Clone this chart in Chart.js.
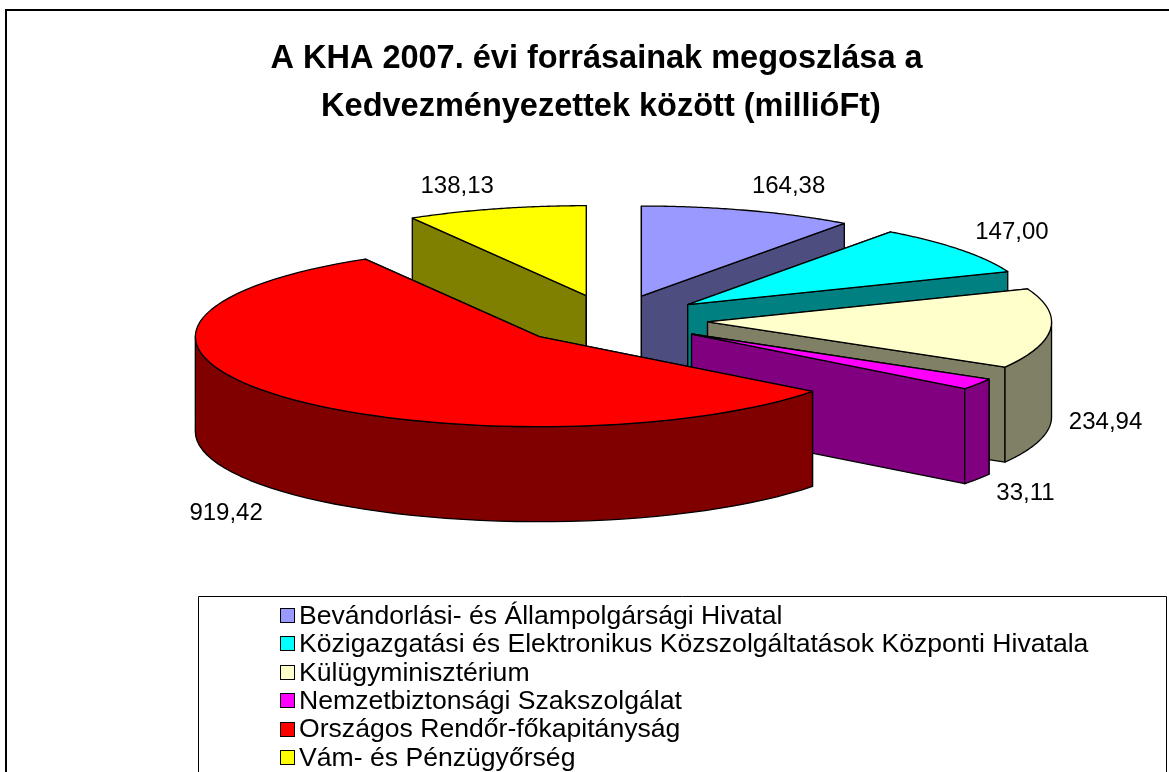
<!DOCTYPE html>
<html><head><meta charset="utf-8">
<style>html,body{margin:0;padding:0;background:#fff;overflow:hidden}#w{position:relative;width:1169px;height:772px}</style>
<script src="https://cdn.jsdelivr.net/npm/chart.js@4"></script>
</head><body><div id="w"><canvas id="c" width="1169" height="772"></canvas></div>
<script>
const categories = ["Bevándorlási- és Állampolgársági Hivatal","Közigazgatási és Elektronikus Közszolgáltatások Központi Hivatala","Külügyminisztérium","Nemzetbiztonsági Szakszolgálat","Országos Rendőr-főkapitányság","Vám- és Pénzügyőrség"];
const values = [164.38,147.00,234.94,33.11,919.42,138.13];
const valueLabels = ["164,38","147,00","234,94","33,11","919,42","138,13"];
const topColors = ["#9999FF","#00FFFF","#FFFFCC","#FF00FF","#FF0000","#FFFF00"];
const wallColors = ["#4D4D80","#008080","#808066","#800080","#800000","#808000"];
const titleLines = ["A KHA 2007. évi forrásainak megoszlása a"," Kedvezményezettek között (millióFt)"];

// drawing style (separate from the data)
const FONT = "'Liberation Sans', Arial, sans-serif";
const VIEW = {cx:611.5, cy:320, rx:344, ry:90, depth:95};
const labelNudge = [[40.5,-24],[52,-17],[55,-1],[48,14],[-55.5,22],[-39,-22]];
const labelOnBase = [false,false,true,true,true,false];

function project(a, r, ox, oy, low){
  // a is canvas angle (rad), r and offsets in units of the pie radius
  return {x: VIEW.cx + (r*Math.cos(a)+ox)*VIEW.rx,
          y: VIEW.cy + (r*Math.sin(a)+oy)*VIEW.ry + (low?VIEW.depth:0)};
}
class Arc3D extends Chart.ArcElement {
  geom(){
    const p = this.getProps(['startAngle','endAngle','outerRadius']);
    const mid=(p.startAngle+p.endAngle)/2, e=(this.options.offset||0)/p.outerRadius;
    return {s:p.startAngle,t:p.endAngle,mid,ox:e*Math.cos(mid),oy:e*Math.sin(mid)};
  }
  apexY(){const g=this.geom();return project(0,0,g.ox,g.oy,false).y;}
  draw(ctx){
    const g=this.geom(), o=this.options, P=(a,r,l)=>project(a,r,g.ox,g.oy,l);
    const poly=(pts,fill)=>{ctx.beginPath();pts.forEach((q,i)=>i?ctx.lineTo(q.x,q.y):ctx.moveTo(q.x,q.y));ctx.closePath();ctx.fillStyle=fill;ctx.fill();ctx.stroke();};
    ctx.save();ctx.strokeStyle='#000';ctx.lineWidth=1.3;ctx.lineJoin='round';
    const wall=o.borderColor;
    poly([P(0,0,false),P(g.s,1,false),P(g.s,1,true),P(0,0,true)],wall);
    poly([P(0,0,false),P(g.t,1,false),P(g.t,1,true),P(0,0,true)],wall);
    // outer wall: only the part of the rim that faces the viewer
    const a0=Math.max(g.s,0), a1=Math.min(g.t,Math.PI);
    const b0=Math.max(g.s,2*Math.PI), b1=Math.min(g.t,3*Math.PI);
    for(const [u,v] of [[a0,a1],[b0,b1]]){
      if(v>u){const up=[],dn=[];for(let i=0;i<=48;i++){const a=u+(v-u)*i/48;up.push(P(a,1,false));dn.unshift(P(a,1,true));}
        poly(up.concat(dn),wall);}
    }
    const topPts=[P(0,0,false)];for(let i=0;i<=72;i++)topPts.push(P(g.s+(g.t-g.s)*i/72,1,false));
    poly(topPts,o.backgroundColor);
    ctx.restore();
  }
}
Arc3D.id='arc3d';Arc3D.defaults=Chart.ArcElement.defaults;
class Pie3D extends Chart.PieController {
  draw(){
    const ctx=this.chart.ctx, arcs=this._cachedMeta.data.slice();
    arcs.sort((a,b)=>a.apexY()-b.apexY()).forEach(a=>a.draw(ctx));
  }
}
Pie3D.id='pie3d';
Pie3D.defaults=Object.assign({},Chart.PieController.defaults,{dataElementType:'arc3d'});
Pie3D.overrides=Chart.PieController.overrides;
Chart.register(Arc3D,Pie3D);

const furniture={id:'furniture',
  afterLayout(chart){const t=chart.titleBlock;if(t){t.left+=12;t.right+=12;t.top=35;}},
  beforeDraw(chart){const c=chart.ctx;c.save();c.fillStyle='#fff';c.fillRect(0,0,1169,772);c.strokeStyle='#000';
    c.lineWidth=2;c.beginPath();c.moveTo(6,772);c.lineTo(6,10);c.lineTo(1169,10);c.stroke();c.restore();},
  afterDraw(chart){const c=chart.ctx,arcs=chart.getDatasetMeta(0).data;c.save();
    c.fillStyle='#000';c.font="24px "+FONT;c.textAlign='center';c.textBaseline='middle';
    arcs.forEach((el,i)=>{const g=el.geom();const q=project(g.mid,1,g.ox,g.oy,labelOnBase[i]);
      c.fillText(valueLabels[i],q.x+labelNudge[i][0],q.y+labelNudge[i][1]);});
    // legend box
    c.strokeStyle='#000';c.lineWidth=1;c.fillStyle='#fff';
    c.beginPath();c.moveTo(198.5,772);c.lineTo(198.5,596.5);c.lineTo(1166.5,596.5);c.lineTo(1166.5,772);c.stroke();
    c.textAlign='left';c.font="26.6px "+FONT;
    categories.forEach((name,i)=>{const y=615+i*28.4;
      c.fillStyle=topColors[i];c.fillRect(280.5,Math.round(y-7)+.5,14,14);c.strokeRect(280.5,Math.round(y-7)+.5,14,14);
      c.fillStyle='#000';c.fillText(name,299,y+1.5);});
    c.restore();}
};
new Chart(document.getElementById('c'),{
  type:'pie3d',
  data:{labels:categories,datasets:[{data:values,backgroundColor:topColors,borderColor:wallColors,offset:28,radius:100}]},
  options:{responsive:false,animation:false,
    plugins:{legend:{display:false},tooltip:{enabled:false},
      title:{display:true,text:titleLines,color:'#000',font:{family:FONT,size:32.5,weight:'bold',lineHeight:1.48},padding:0}}},
  plugins:[furniture]
});
</script></body></html>
